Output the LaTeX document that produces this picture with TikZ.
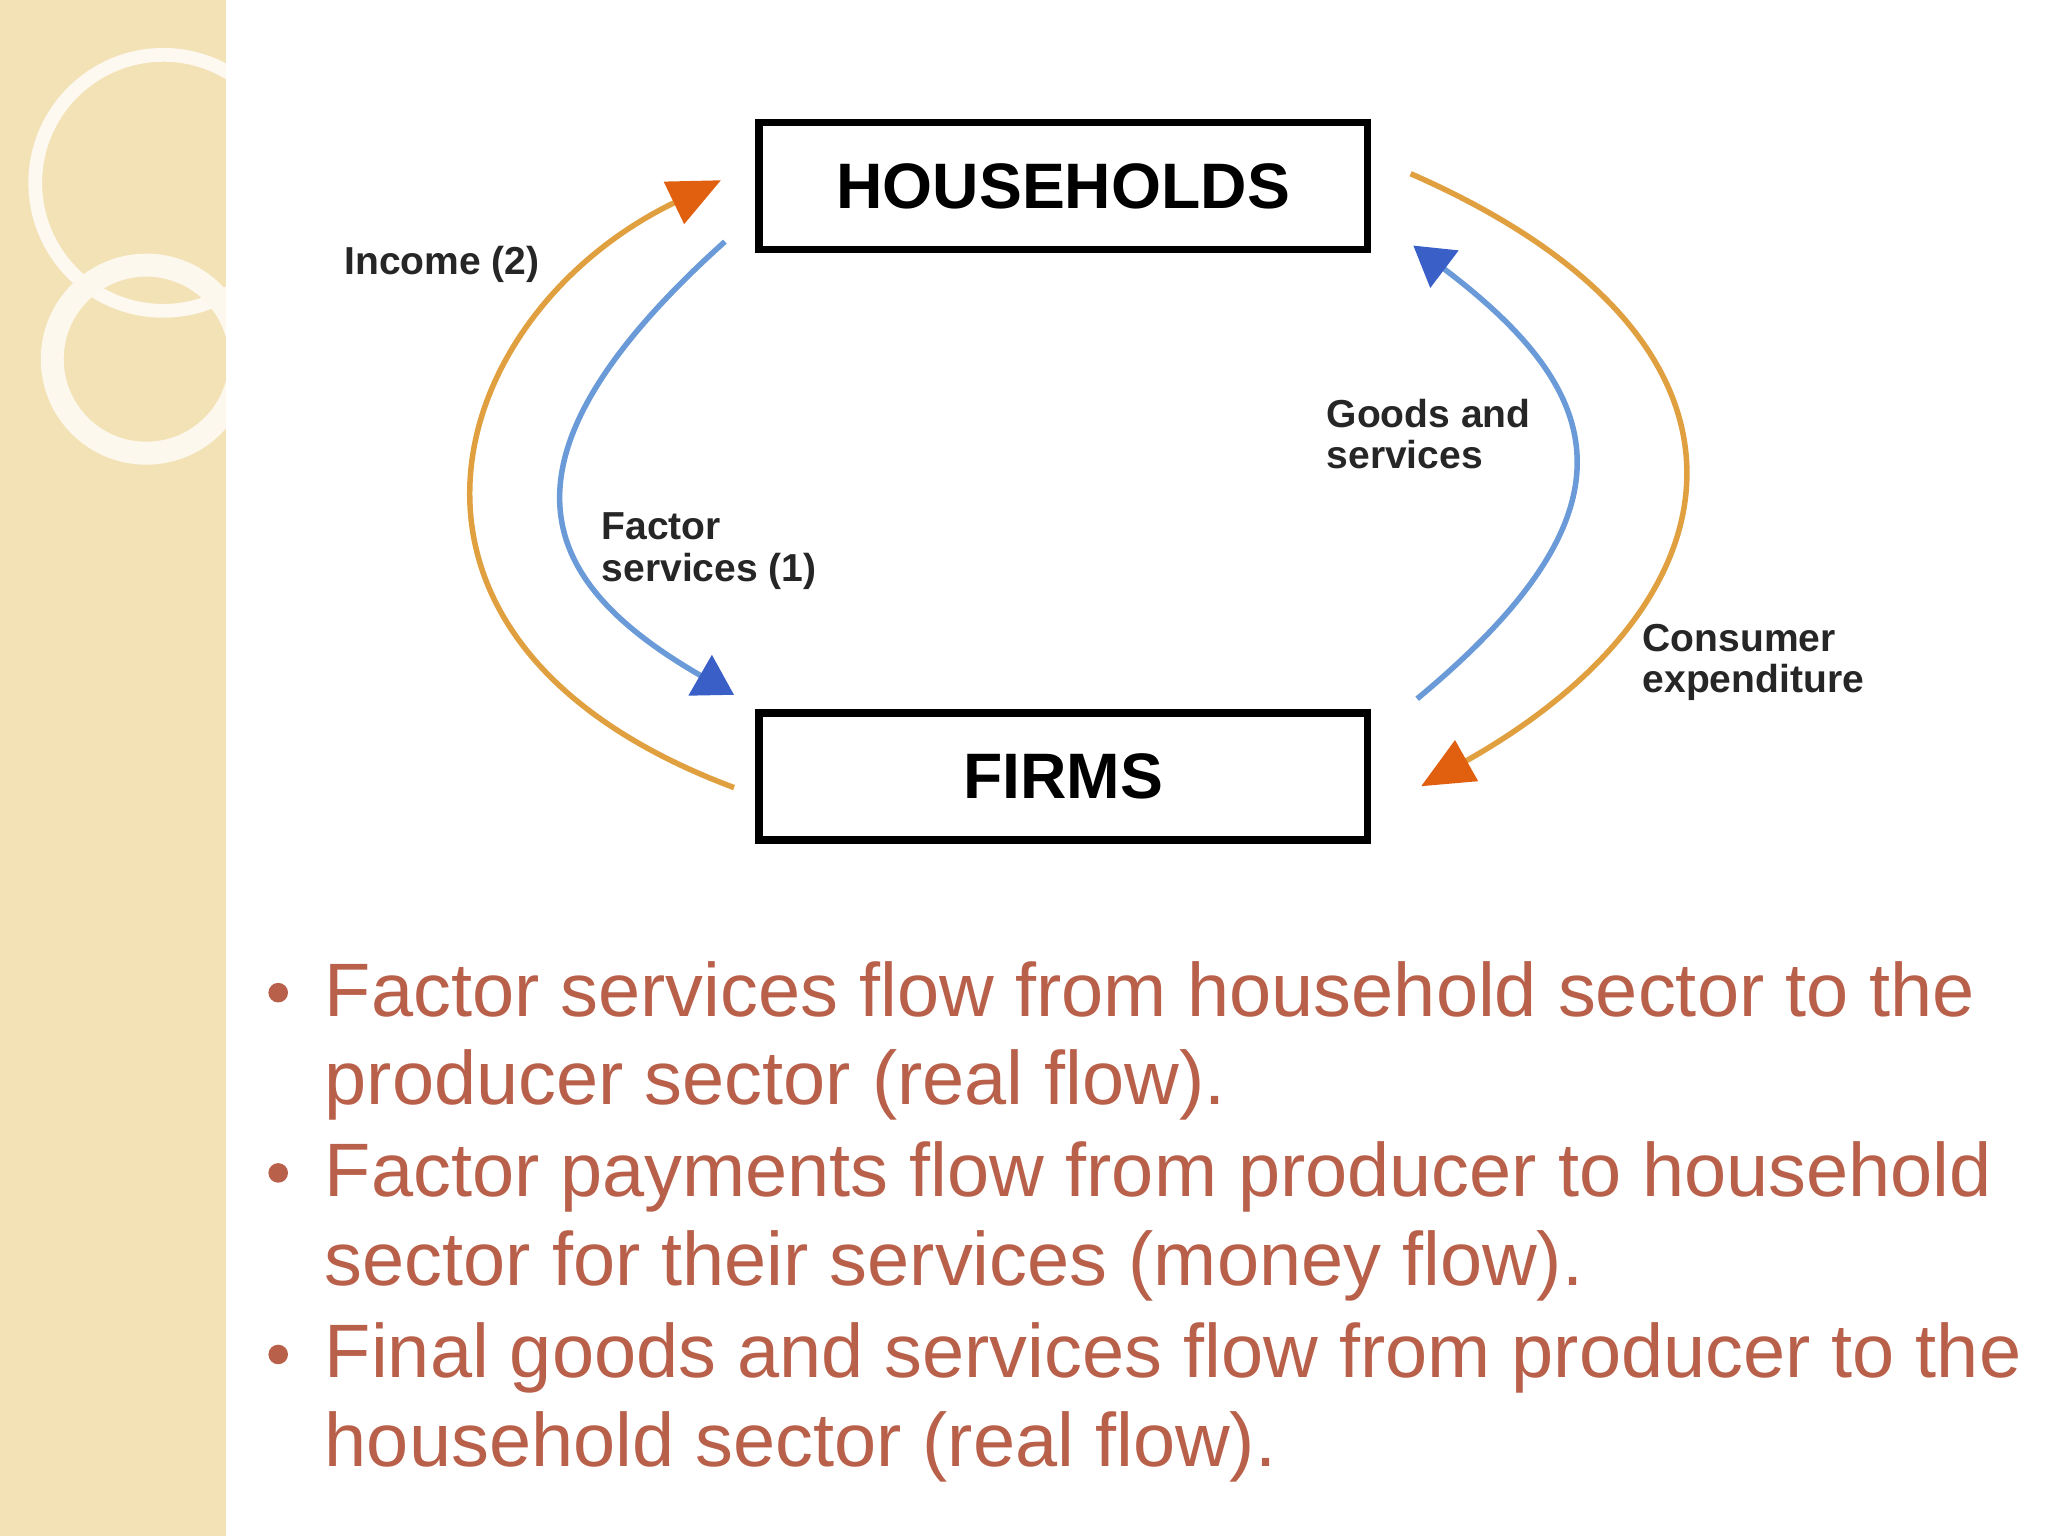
\documentclass[tikz,border=0pt]{standalone}
\usepackage{fontspec}
\setmainfont{Liberation Sans}
\usetikzlibrary{arrows.meta}
\definecolor{beige}{HTML}{F3E2B6}
\definecolor{txt}{HTML}{B8604A}
\definecolor{org}{HTML}{E0A040}
\definecolor{orgtip}{HTML}{E06010}
\definecolor{blu}{HTML}{6A9AD8}
\definecolor{blutip}{HTML}{3A60C8}
\tikzset{
 box/.style={draw,line width=1.6pt,minimum width=4.66cm,minimum height=0.97cm,font=\bfseries\fontsize{14}{16}\selectfont},
 lbl/.style={font=\bfseries\fontsize{8.5}{9}\selectfont,align=left,anchor=north west,inner sep=0pt,text=black!85},
 oflow/.style={draw=org,line width=1.2pt,-{Triangle[length=0.4cm,width=0.35cm,fill=orgtip,color=orgtip]}},
 bflow/.style={draw=blu,line width=1.2pt,-{Triangle[length=0.3cm,width=0.35cm,fill=blutip,color=blutip]}},
 bl/.style={font=\fontsize{16.5}{18}\selectfont,text=txt,anchor=base west,inner sep=0pt}
}
\begin{document}
\begin{tikzpicture}
\useasboundingbox (0,0) rectangle (15.68,-11.76);
\fill[beige] (0,0) rectangle (1.73,-11.76);
\begin{scope}
\clip (0,0) rectangle (1.73,-11.76);
\draw[white!80!beige,line width=3pt] (1.25,-1.4) circle (0.98);
\draw[white!75!beige,line width=5pt] (1.12,-2.75) circle (0.72);
\end{scope}
\node[box] (hh) at (8.14,-1.425) {HOUSEHOLDS};
\node[box] (ff) at (8.14,-5.945) {FIRMS};
\coordinate (i0) at (5.62,-6.03); \coordinate (i1) at (5.52,-1.38);
\coordinate (f0) at (5.55,-1.85); \coordinate (f1) at (5.62,-5.32);
\coordinate (g0) at (10.85,-5.35); \coordinate (g1) at (10.82,-1.88);
\coordinate (c0) at (10.80,-1.33); \coordinate (c1) at (10.88,-6.02);
\draw[oflow] (i0) .. controls (2.6,-4.9) and (3.4,-2.4) .. (i1);
\draw[bflow] (f0) .. controls (3.6,-3.6) and (4.2,-4.5) .. (f1);
\draw[bflow] (g0) .. controls (12.6,-3.9) and (12.3,-3.0) .. (g1);
\draw[oflow] (c0) .. controls (13.7,-2.6) and (13.4,-4.6) .. (c1);
\node[lbl] (li) at (2.63,-1.88) {Income (2)};
\node[lbl] (lf) at (4.60,-3.92) {Factor\\services (1)};
\node[lbl] (lg) at (10.15,-3.05) {Goods and\\services};
\node[lbl] (lc) at (12.57,-4.77) {Consumer\\expenditure};
\foreach \y/\t/\b in {7.78/Factor services flow from household sector to the/1,8.46/producer sector (real flow)./0,9.16/Factor payments flow from producer to household/1,9.84/sector for their services (money flow)./0,10.55/Final goods and services flow from producer to the/1,11.23/household sector (real flow)./0}{
 \node[bl] (t\y) at (2.48,-\y) {\t};
 \ifnum\b=1 \fill[txt] (2.13,-\y+0.18) circle (0.075); \fi
}
\end{tikzpicture}
\end{document}
